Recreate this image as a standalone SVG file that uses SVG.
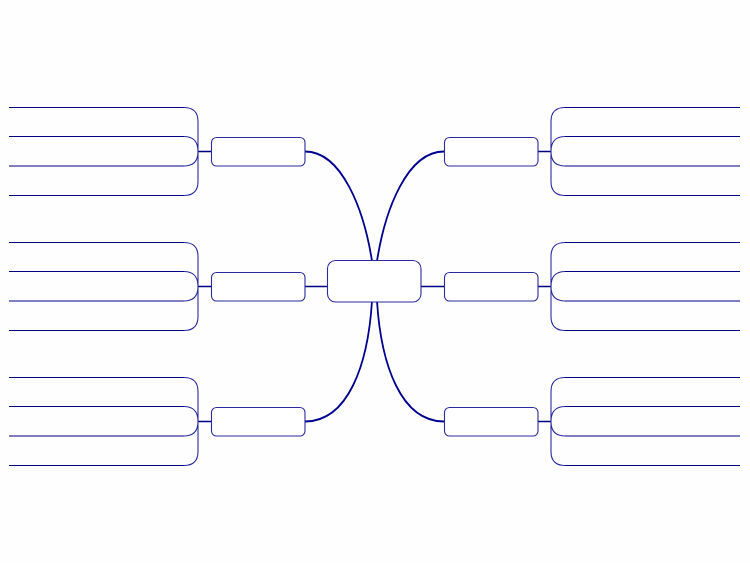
<svg xmlns="http://www.w3.org/2000/svg" width="750" height="563" viewBox="0 0 750 563">
<style>
.bg{fill:#fefefe}
.node{fill:#ffffff;stroke:#2a2aa0;stroke-width:1.1}
.leaf{fill:none;stroke:#000080;stroke-width:1.1}
.br{fill:none;stroke:#2a2aa0;stroke-width:1.1}
.stub{fill:none;stroke:#000080;stroke-width:1.3}
.curve{fill:none;stroke:#000090;stroke-width:1.8}
</style>
<rect class="bg" x="0" y="0" width="750" height="563"/>
<g id="connectors">
<path class="curve" d="M305,151.5 C342,151.5 364,210 372,261"/>
<path class="curve" d="M444,151.5 C407,151.5 385,210 377,261"/>
<path class="curve" d="M305,421.5 C348,421.5 368,365 372,301"/>
<path class="curve" d="M444,421.5 C401,421.5 381,365 377,301"/>
<path class="stub" d="M305,286.5 H327 M421,286.5 H444"/>
<path class="stub" d="M198,151.5 H211 M198,286.5 H211 M198,421.5 H211"/>
<path class="stub" d="M538,151.5 H551 M538,286.5 H551 M538,421.5 H551"/>
</g>
<g id="center"><rect class="node" x="327.5" y="260.5" width="93.5" height="41.5" rx="8"/></g>
<g id="branch-left-1"><rect class="node" x="211.5" y="137.5" width="93.5" height="28.5" rx="5"/></g>
<g id="branch-left-2"><rect class="node" x="211.5" y="272.5" width="93.5" height="28.5" rx="5"/></g>
<g id="branch-left-3"><rect class="node" x="211.5" y="407.5" width="93.5" height="28.5" rx="5"/></g>
<g id="branch-right-1"><rect class="node" x="444.5" y="137.5" width="93.5" height="28.5" rx="5"/></g>
<g id="branch-right-2"><rect class="node" x="444.5" y="272.5" width="93.5" height="28.5" rx="5"/></g>
<g id="branch-right-3"><rect class="node" x="444.5" y="407.5" width="93.5" height="28.5" rx="5"/></g>
<g id="leaves-left-1">
<path class="leaf" d="M9,107.5 H184 M9,136.5 H184 M9,166 H184 M9,195.5 H184"/>
<path class="br" d="M184,107.5 Q198,107.5 198,121.5 V181.5 Q198,195.5 184,195.5 M184,136.5 Q198,136.5 198,151.5 Q198,166 184,166"/>
</g>
<g id="leaves-left-2">
<path class="leaf" d="M9,242.5 H184 M9,271.5 H184 M9,301 H184 M9,330.5 H184"/>
<path class="br" d="M184,242.5 Q198,242.5 198,256.5 V316.5 Q198,330.5 184,330.5 M184,271.5 Q198,271.5 198,286.5 Q198,301 184,301"/>
</g>
<g id="leaves-left-3">
<path class="leaf" d="M9,377.5 H184 M9,406.5 H184 M9,436 H184 M9,465.5 H184"/>
<path class="br" d="M184,377.5 Q198,377.5 198,391.5 V451.5 Q198,465.5 184,465.5 M184,406.5 Q198,406.5 198,421.5 Q198,436 184,436"/>
</g>
<g id="leaves-right-1">
<path class="leaf" d="M565,107.5 H740 M565,136.5 H740 M565,166 H740 M565,195.5 H740"/>
<path class="br" d="M565,107.5 Q551,107.5 551,121.5 V181.5 Q551,195.5 565,195.5 M565,136.5 Q551,136.5 551,151.5 Q551,166 565,166"/>
</g>
<g id="leaves-right-2">
<path class="leaf" d="M565,242.5 H740 M565,271.5 H740 M565,301 H740 M565,330.5 H740"/>
<path class="br" d="M565,242.5 Q551,242.5 551,256.5 V316.5 Q551,330.5 565,330.5 M565,271.5 Q551,271.5 551,286.5 Q551,301 565,301"/>
</g>
<g id="leaves-right-3">
<path class="leaf" d="M565,377.5 H740 M565,406.5 H740 M565,436 H740 M565,465.5 H740"/>
<path class="br" d="M565,377.5 Q551,377.5 551,391.5 V451.5 Q551,465.5 565,465.5 M565,406.5 Q551,406.5 551,421.5 Q551,436 565,436"/>
</g>
</svg>
